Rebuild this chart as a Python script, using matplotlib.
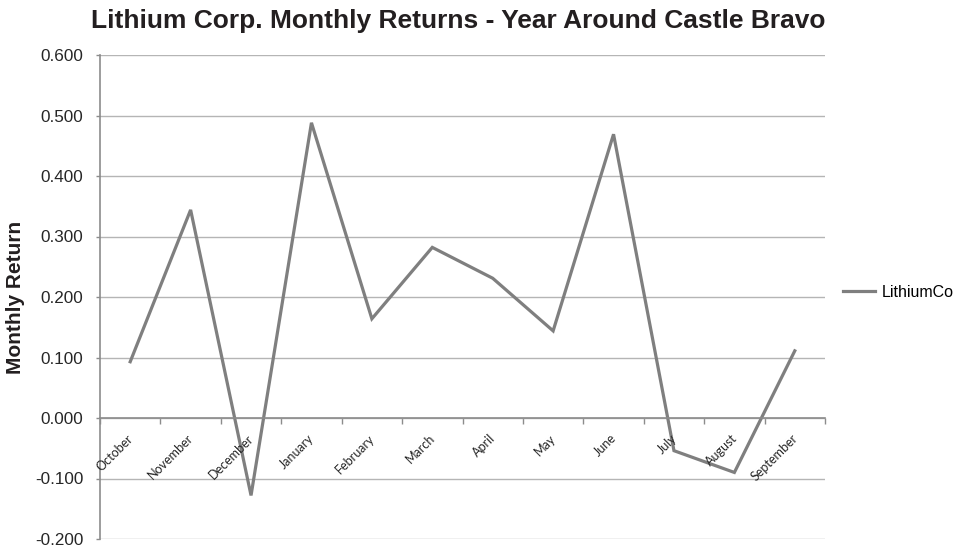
import matplotlib
matplotlib.use('Agg')
import matplotlib.pyplot as plt
import matplotlib.transforms as mtransforms
import numpy as np

months = ['October', 'November', 'December', 'January', 'February', 'March',
          'April', 'May', 'June', 'July', 'August', 'September']
lithium_returns = [0.093, 0.344, -0.128, 0.488, 0.164, 0.282,
                   0.231, 0.144, 0.469, -0.054, -0.090, 0.111]
y_ticks = [-0.2, -0.1, 0.0, 0.1, 0.2, 0.3, 0.4, 0.5, 0.6]

plt.rcParams['font.family'] = ['Liberation Sans', 'DejaVu Sans']

fig = plt.figure(figsize=(9.55, 5.49), dpi=100)
ax = fig.add_axes([100 / 955, 10 / 549, 725 / 955, 484 / 549])

x = np.arange(len(months))
ax.plot(x, lithium_returns, color='#7f7f7f', linewidth=2.3, label='LithiumCo',
        solid_joinstyle='miter')

ax.set_xlim(-0.5, len(months) - 0.5)
ax.set_ylim(-0.2, 0.6)
ax.set_yticks(y_ticks)
ax.set_yticklabels(['%.3f' % v for v in y_ticks], fontsize=12.3, color='#262626')
ax.grid(axis='y', color='#b5b5b5', linewidth=1.0)
ax.set_axisbelow(True)

for side in ['top', 'right']:
    ax.spines[side].set_visible(False)
ax.spines['left'].set_color('#8c8c8c')
ax.spines['left'].set_linewidth(1.2)
ax.spines['bottom'].set_position(('data', 0))
ax.spines['bottom'].set_color('#8c8c8c')
ax.spines['bottom'].set_linewidth(1.2)

ax.tick_params(axis='y', length=3, width=1, color='#8c8c8c', pad=9)
ax.set_xticks(np.arange(-0.5, len(months), 1.0))
ax.set_xticklabels([])
ax.tick_params(axis='x', length=4, width=1, color='#8c8c8c')

# month labels sit just under the zero line, like Excel does
offset = mtransforms.offset_copy(ax.transData, fig=fig, x=5, y=-14, units='dots')
for i, m in enumerate(months):
    ax.text(i, 0, m, rotation=45, ha='right', va='top', fontsize=9,
            family=['Lato', 'DejaVu Sans'], color='#262626', transform=offset)

ax.set_ylabel('Monthly Return', fontsize=15, fontweight='bold', color='#231f20',
              va='center')
ax.yaxis.set_label_coords(-84 / 725, 0.5)

fig.text(458 / 955, 1 - 21 / 549, 'Lithium Corp. Monthly Returns - Year Around Castle Bravo',
         ha='center', va='center', fontsize=19, fontweight='bold', color='#231f20')

ax.legend(loc='center left', bbox_to_anchor=(1.025, 0.51), frameon=False,
          borderpad=0, borderaxespad=0, handlelength=2.0, handletextpad=0.4,
          prop={'size': 11.5})

fig.savefig('out.png', dpi=100)
